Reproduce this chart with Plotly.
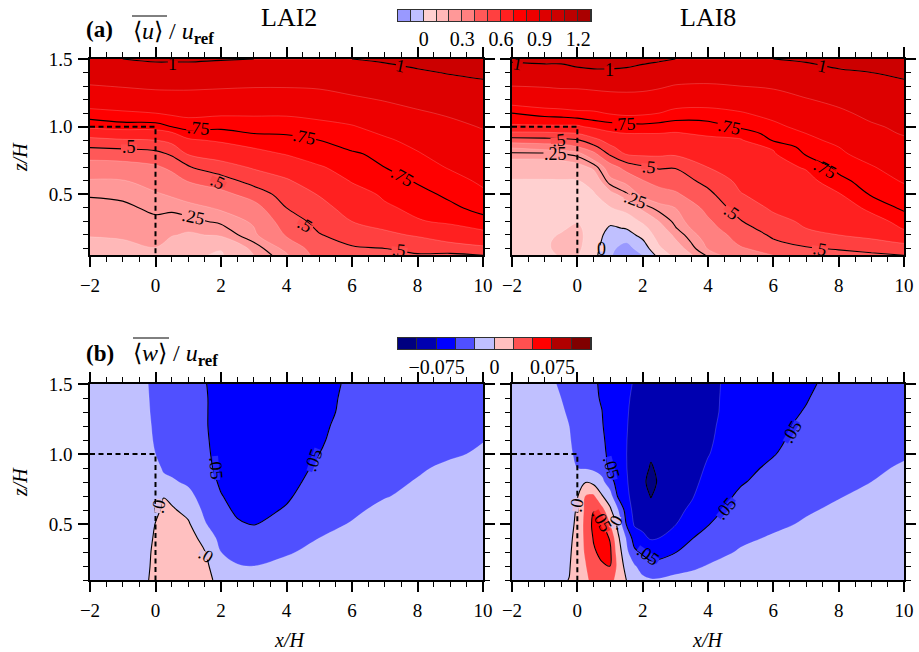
import math
import numpy as np
import plotly.graph_objects as go

W, H = 919, 652
SERIF = "Liberation Serif"

# ---------- u panels ----------
Z2 = [.05,.1,.2,.3,.4,.5,.6,.7,.8,.9,1.0,1.1,1.2,1.3,1.4,1.5]
X2 = [-2,-1,0,.5,1,2,3,4,5,6,7,8,9,10]
U2 = [
 [.15,.175,.204,.22,.236,.254,.293,.355,.44,.572,.715,.78,.84,.895,.95,.985],
 [.15,.18,.21,.225,.24,.26,.295,.36,.45,.59,.73,.79,.85,.905,.955,1.0],
 [.17,.198,.22,.24,.26,.29,.34,.385,.47,.6,.73,.8,.86,.915,.965,1.01],
 [.12,.15,.205,.23,.26,.31,.36,.42,.515,.63,.75,.81,.865,.915,.965,1.01],
 [.115,.135,.19,.235,.275,.335,.405,.49,.61,.69,.77,.815,.865,.915,.965,1.01],
 [.09,.105,.21,.26,.31,.37,.454,.56,.645,.71,.76,.81,.86,.91,.955,1.005],
 [.2,.22,.285,.31,.36,.44,.54,.61,.675,.735,.765,.81,.86,.905,.95,1.0],
 [.29,.32,.41,.45,.5,.545,.59,.645,.705,.74,.765,.81,.86,.905,.95,1.0],
 [.44,.46,.495,.53,.57,.605,.65,.695,.725,.75,.78,.82,.865,.91,.955,1.0],
 [.47,.49,.54,.6,.635,.67,.705,.72,.745,.77,.795,.835,.885,.93,.965,1.0],
 [.48,.5,.58,.635,.69,.71,.73,.75,.76,.79,.825,.865,.905,.945,.975,1.01],
 [.49,.53,.61,.695,.715,.735,.755,.775,.795,.82,.855,.89,.925,.955,.99,1.025],
 [.48,.55,.66,.71,.74,.76,.78,.805,.83,.86,.88,.91,.94,.97,1.005,1.04],
 [.5,.58,.68,.735,.765,.79,.81,.83,.85,.88,.905,.93,.955,.985,1.015,1.045],
]

Z8 = [.05,.1,.15,.2,.25,.3,.4,.5,.6,.7,.8,.85,.9,.95,1.0,1.1,1.2,1.3,1.4,1.5]
X8 = [-2,-1,-.5,0,.5,1,1.5,2,2.5,3,4,5,6,7,8,9,10]
U8 = [
 [.07,.07,.07,.075,.075,.08,.085,.09,.095,.137,.24,.31,.455,.575,.69,.75,.835,.9,.955,1.015],
 [.085,.09,.09,.085,.08,.08,.085,.09,.095,.14,.24,.34,.465,.58,.69,.77,.85,.905,.965,1.02],
 [.105,.115,.115,.105,.09,.085,.085,.09,.095,.15,.25,.35,.47,.59,.69,.775,.855,.91,.965,1.02],
 [.105,.12,.125,.125,.115,.095,.09,.09,.095,.17,.27,.395,.49,.6,.69,.785,.86,.91,.98,1.03],
 [.03,.04,.05,.055,.06,.065,.075,.09,.14,.215,.375,.47,.57,.65,.715,.79,.855,.92,.985,1.04],
 [-.09,-.08,-.06,-.04,-.012,.02,.095,.17,.28,.35,.52,.585,.635,.69,.725,.805,.865,.925,.985,1.04],
 [-.16,-.135,-.095,-.04,.005,.04,.135,.24,.32,.44,.61,.64,.665,.7,.73,.815,.87,.925,.98,1.035],
 [-.1,-.055,-.015,.03,.065,.115,.22,.32,.395,.485,.62,.645,.66,.7,.735,.81,.87,.92,.97,1.02],
 [.03,.085,.115,.14,.17,.2,.27,.36,.435,.51,.62,.65,.675,.7,.73,.8,.86,.91,.96,1.01],
 [.13,.16,.19,.215,.245,.265,.3,.385,.45,.505,.615,.64,.665,.695,.725,.78,.84,.895,.95,1.0],
 [.26,.305,.32,.34,.365,.385,.43,.475,.53,.6,.645,.665,.685,.71,.73,.78,.83,.89,.945,1.0],
 [.36,.39,.42,.44,.47,.495,.545,.595,.625,.65,.675,.685,.695,.72,.76,.795,.84,.9,.95,1.0],
 [.4,.44,.49,.515,.54,.57,.615,.64,.66,.68,.695,.705,.755,.77,.785,.82,.865,.91,.955,1.0],
 [.44,.49,.53,.565,.6,.615,.645,.665,.68,.705,.755,.77,.785,.8,.82,.86,.895,.935,.97,1.01],
 [.46,.51,.56,.6,.62,.635,.665,.695,.735,.765,.79,.8,.815,.83,.85,.885,.92,.955,.99,1.025],
 [.47,.55,.585,.62,.65,.675,.715,.755,.775,.795,.825,.84,.86,.88,.89,.92,.945,.975,1.0,1.03],
 [.5,.57,.61,.675,.705,.72,.76,.78,.805,.83,.855,.87,.89,.905,.915,.94,.965,.99,1.01,1.035],
]

# ---------- w panels ----------
ZW = [.1,.2,.3,.4,.5,.6,.7,.8,.9,1.0,1.1,1.2,1.3,1.4,1.5]
XW2 = [-2,-1,-.25,0,.25,.5,1,1.5,2,2.5,3,4,5,6,7,8,9,10]
W2 = [
 [-.002,-.003,-.004,-.005,-.006,-.007,-.008,-.009,-.009,-.01,-.011,-.012,-.013,-.013,-.014],
 [-.003,-.004,-.005,-.006,-.007,-.008,-.01,-.011,-.012,-.013,-.014,-.015,-.016,-.017,-.018],
 [-.001,-.003,-.004,-.006,-.007,-.009,-.011,-.013,-.015,-.017,-.019,-.02,-.022,-.023,-.024],
 [.005,.006,.005,.003,.0005,-.004,-.008,-.012,-.016,-.025,-.028,-.03,-.031,-.032,-.033],
 [.014,.013,.012,.01,.007,.003,-.0005,-.018,-.029,-.033,-.035,-.036,-.037,-.038,-.038],
 [.02,.018,.015,.012,.008,.003,-.006,-.022,-.031,-.036,-.038,-.039,-.04,-.04,-.04],
 [.022,.02,.016,.01,.003,-.007,-.018,-.029,-.036,-.04,-.042,-.043,-.044,-.044,-.044],
 [.012,.007,.001,-.008,-.023,-.03,-.036,-.04,-.044,-.046,-.047,-.048,-.048,-.048,-.049],
 [-.012,-.019,-.025,-.033,-.04,-.045,-.049,-.053,-.056,-.057,-.058,-.058,-.058,-.058,-.057],
 [-.016,-.024,-.031,-.04,-.048,-.053,-.057,-.06,-.062,-.063,-.064,-.064,-.064,-.063,-.062],
 [-.016,-.025,-.032,-.042,-.051,-.057,-.06,-.063,-.065,-.066,-.067,-.067,-.067,-.066,-.065],
 [-.012,-.02,-.027,-.034,-.041,-.048,-.053,-.057,-.06,-.061,-.062,-.062,-.061,-.06,-.059],
 [-.01,-.015,-.02,-.025,-.03,-.034,-.038,-.042,-.046,-.05,-.052,-.053,-.054,-.054,-.054],
 [-.008,-.012,-.016,-.02,-.024,-.028,-.031,-.034,-.037,-.04,-.042,-.044,-.046,-.047,-.048],
 [-.006,-.009,-.012,-.015,-.018,-.021,-.026,-.029,-.031,-.033,-.035,-.037,-.039,-.04,-.041],
 [-.005,-.007,-.009,-.012,-.015,-.018,-.021,-.024,-.027,-.03,-.032,-.034,-.035,-.036,-.037],
 [-.004,-.006,-.008,-.01,-.012,-.015,-.017,-.019,-.022,-.027,-.029,-.031,-.032,-.033,-.034],
 [-.003,-.005,-.007,-.009,-.011,-.013,-.015,-.017,-.02,-.023,-.0255,-.028,-.03,-.031,-.032],
]

XW8 = [-2,-1,-.5,-.25,0,.25,.5,.75,1,1.25,1.5,1.75,2,2.25,2.5,3,3.5,4,5,6,7,8,9,10]
W8 = [
 [-.002,-.003,-.004,-.005,-.006,-.007,-.008,-.009,-.01,-.011,-.012,-.013,-.014,-.015,-.016],
 [-.003,-.004,-.005,-.006,-.008,-.009,-.01,-.012,-.013,-.014,-.015,-.016,-.018,-.019,-.02],
 [-.003,-.005,-.006,-.008,-.01,-.012,-.014,-.016,-.018,-.02,-.021,-.022,-.023,-.025,-.027],
 [.0005,-.002,-.004,-.006,-.009,-.011,-.014,-.016,-.018,-.021,-.023,-.025,-.027,-.029,-.03],
 [.016,.014,.012,.009,.006,.003,-.002,-.015,-.025,-.03,-.033,-.034,-.035,-.036,-.037],
 [.022,.024,.028,.031,.033,.031,.026,-.001,-.027,-.035,-.038,-.04,-.041,-.042,-.043],
 [.03,.04,.047,.052,.056,.049,.029,-.007,-.03,-.04,-.043,-.044,-.045,-.046,-.047],
 [.034,.047,.056,.062,.054,.035,.002,-.019,-.034,-.041,-.045,-.048,-.0495,-.052,-.053],
 [.03,.05,.055,.048,.026,.005,-.015,-.038,-.055,-.058,-.059,-.06,-.061,-.062,-.063],
 [.02,.019,.012,.004,-.008,-.025,-.054,-.062,-.066,-.069,-.07,-.07,-.07,-.07,-.07],
 [.0,-.01,-.019,-.027,-.051,-.06,-.068,-.072,-.074,-.0745,-.074,-.073,-.072,-.071,-.07],
 [-.012,-.023,-.045,-.062,-.078,-.083,-.087,-.088,-.088,-.087,-.086,-.085,-.083,-.08,-.077],
 [-.02,-.035,-.054,-.071,-.08,-.086,-.09,-.092,-.092,-.092,-.09,-.089,-.088,-.086,-.084],
 [-.023,-.044,-.06,-.077,-.086,-.093,-.101,-.112,-.102,-.097,-.095,-.094,-.092,-.09,-.088],
 [-.023,-.042,-.059,-.075,-.083,-.089,-.093,-.095,-.096,-.096,-.095,-.094,-.093,-.092,-.09],
 [-.02,-.033,-.051,-.065,-.076,-.081,-.085,-.088,-.09,-.09,-.09,-.09,-.089,-.088,-.087],
 [-.018,-.029,-.04,-.051,-.061,-.071,-.077,-.081,-.084,-.085,-.086,-.086,-.086,-.085,-.084],
 [-.015,-.024,-.033,-.042,-.051,-.058,-.063,-.068,-.072,-.076,-.078,-.079,-.08,-.08,-.08],
 [-.01,-.018,-.023,-.029,-.035,-.04,-.046,-.052,-.056,-.059,-.061,-.063,-.065,-.066,-.067],
 [-.008,-.013,-.018,-.023,-.029,-.033,-.037,-.041,-.046,-.051,-.054,-.055,-.056,-.057,-.058],
 [-.006,-.01,-.014,-.018,-.023,-.027,-.031,-.034,-.037,-.04,-.043,-.046,-.049,-.051,-.053],
 [-.005,-.008,-.011,-.014,-.018,-.022,-.026,-.029,-.032,-.034,-.036,-.038,-.04,-.042,-.044],
 [-.004,-.006,-.009,-.012,-.015,-.018,-.021,-.025,-.028,-.03,-.032,-.034,-.036,-.037,-.038],
 [-.003,-.005,-.007,-.01,-.012,-.015,-.018,-.02,-.023,-.027,-.029,-.031,-.032,-.033,-.034],
]

# ---------- colour bands ----------
U_EDGES = [-.2,-.1,0,.1,.2,.3,.4,.5,.6,.7,.8,.9,1.0,1.1,1.2,1.3]
U_COLORS = ["#9999ff","#c0c0ff","#ffd0d0","#ffb8b8","#ff9898","#ff8080","#ff5858","#ff4040",
            "#ff2020","#ff0000","#ee0000","#dd0000","#cc0000","#bb0000","#aa0000"]
W_EDGES = [-.125,-.1,-.075,-.05,-.025,0,.025,.05,.075,.1,.125]
W_COLORS = ["#000080","#0000b0","#0000ff","#5050ff","#c0c0ff","#ffc0c0","#ff5050","#ff0000","#b00000","#800000"]
U_TICKS = [0,.3,.6,.9,1.2]
W_TICKS = [-.075,0,.075]

CANOPY_X = [-2,0,0]
CANOPY_Z = [1.0,1.0,0.0]

# panel, x, z, text, angle, colour of the gap cut into the line under the label
LABELS = [
 (1,.53,1.463,"1",0,"#dd0000"),(1,7.49,1.45,"1",12,"#d40000"),(1,1.31,.988,".75",5,"#ff0000"),(1,4.55,.926,".75",12,"#ff0000"),(1,7.55,.63,".75",30,"#ff0000"),
 (1,-.81,.847,".5",0,"#ff4c4c"),(1,1.92,.594,".5",25,"#ff4c4c"),(1,4.57,.273,".5",30,"#ff4c4c"),(1,7.45,.089,".5",5,"#ff4c4c"),(1,1.16,.33,".25",12,"#ff9898"),
 (2,-1.83,1.463,"1",10,"#d40000"),(2,.98,1.42,"1",0,"#dd0000"),(2,7.5,1.45,"1",12,"#d40000"),(2,1.44,1.017,".75",-3,"#ff0000"),(2,4.65,1.0,".75",12,"#ff0000"),
 (2,7.6,.69,".75",28,"#ff0000"),(2,-.57,.90,".5",-5,"#ff4c4c"),(2,2.2,.704,".5",5,"#ff4c4c"),(2,4.72,.372,".5",35,"#ff4c4c"),(2,7.42,.094,".5",10,"#ff4c4c"),
 (2,-.67,.798,".25",0,"#ff9898"),(2,1.79,.458,".25",20,"#ff9898"),(2,.73,.1,"0",0,"#ffd0d0"),
 (3,1.85,.9,".05",85,"#2828ff"),(3,4.82,.958,".05",-70,"#2828ff"),(3,.09,.63,".0",-80,"#dfc0df"),(3,1.53,.277,".0",30,"#dfc0df"),
 (4,1.05,.9,".05",75,"#2828ff"),(4,6.55,1.16,".05",-60,"#2828ff"),(4,4.55,.614,".05",-50,"#2828ff"),(4,2.17,.281,".05",35,"#2828ff"),(4,.75,.52,".05",60,"#ff2828"),
 (4,-.03,.638,".0",-80,"#dfc0df"),(4,1.16,.514,".0",-60,"#dfc0df"),
]
LABEL_PX = {"1":5,"0":5,".0":7,".5":8,".75":12,".25":12,".05":12}

def steps(colors):
    n = len(colors)
    out = []
    for i, c in enumerate(colors):
        out += [[i/n, c], [(i+1)/n, c]]
    return out

fig = go.Figure()

PANELS = [
 (1, X2, Z2, U2, U_EDGES, U_COLORS, (0,1,.25)),
 (2, X8, Z8, U8, U_EDGES, U_COLORS, (0,1,.25)),
 (3, XW2, ZW, W2, W_EDGES, W_COLORS, (-.1,.05,.05)),
 (4, XW8, ZW, W8, W_EDGES, W_COLORS, (-.1,.05,.05)),
]
for n, xs, zs, vals, edges, colors, black in PANELS:
    zz = np.array(vals).T
    size = edges[1]-edges[0]
    fig.add_trace(go.Contour(x=xs, y=zs, z=zz, xaxis=f"x{n}", yaxis=f"y{n}",
        colorscale=steps(colors), zmin=edges[0], zmax=edges[-1], showscale=False,
        autocontour=False,
        contours=dict(start=edges[0], end=edges[-1], size=size, coloring="fill", showlines=True),
        line=dict(color="rgba(255,255,255,0.3)", width=0.6, smoothing=1), hoverinfo="skip"))
    fig.add_trace(go.Contour(x=xs, y=zs, z=zz, xaxis=f"x{n}", yaxis=f"y{n}",
        showscale=False, autocontour=False,
        contours=dict(start=black[0], end=black[1], size=black[2], coloring="none"),
        line=dict(color="black", width=1.1, smoothing=1), hoverinfo="skip"))

for n in (1,2,3,4):
    fig.add_trace(go.Scatter(x=CANOPY_X, y=CANOPY_Z, mode="lines", xaxis=f"x{n}", yaxis=f"y{n}",
        line=dict(color="black", width=2, dash="5px,3.5px"), hoverinfo="skip", showlegend=False))

# colour bars
for n, edges, colors in ((5,U_EDGES,U_COLORS),(6,W_EDGES,W_COLORS)):
    fig.add_trace(go.Heatmap(x=edges, y=[0,1], z=[list(range(len(colors)))], xaxis=f"x{n}", yaxis=f"y{n}",
        colorscale=steps(colors), zmin=-.5, zmax=len(colors)-.5, showscale=False, xgap=1, hoverinfo="skip"))

def dom_x(a,b): return [a/W, b/W]
def dom_y(top,bot): return [1-bot/H, 1-top/H]

tickfont = dict(family=SERIF, size=19, color="black")
def xax(dom, anchor):
    return dict(domain=dom, anchor=anchor, range=[-2,10], tick0=-2, dtick=2, ticks="outside", ticklen=10, tickwidth=1.5,
        tickcolor="black", showline=True, linecolor="black", linewidth=1.5, mirror="ticks", showgrid=False, zeroline=False,
        tickfont=tickfont, ticklabelstandoff=2, automargin=False,
        minor=dict(ticks="outside", dtick=.5, tick0=0, ticklen=5, tickwidth=1, tickcolor="black", showgrid=False))
def yax(dom, anchor, lo, labels):
    return dict(domain=dom, anchor=anchor, range=[lo,1.5], tick0=0, dtick=.5, tickformat=".1f", ticks="outside", ticklen=10, tickwidth=1.5,
        tickcolor="black", showline=True, linecolor="black", linewidth=1.5, mirror="ticks", showgrid=False, zeroline=False,
        tickfont=tickfont, showticklabels=labels, ticklabelstandoff=2, automargin=False,
        minor=dict(ticks="outside", dtick=.1, tick0=0, ticklen=5, tickwidth=1, tickcolor="black", showgrid=False))

XL, XR = dom_x(90,483), dom_x(512,904)
YA, YB = dom_y(59,255), dom_y(384,580)
layout = dict(width=W, height=H, margin=dict(l=0,r=0,t=0,b=0,autoexpand=False), paper_bgcolor="white", plot_bgcolor="#303030",
    showlegend=False, font=dict(family=SERIF, color="black"),
    xaxis1=xax(XL,"y1"), yaxis1=yax(YA,"x1",.052,True),
    xaxis2=xax(XR,"y2"), yaxis2=yax(YA,"x2",.052,False),
    xaxis3=xax(XL,"y3"), yaxis3=yax(YB,"x3",.1,True),
    xaxis4=xax(XR,"y4"), yaxis4=yax(YB,"x4",.1,False),
)
for n, edges, ticks, txt_, top, bot in ((5,U_EDGES,U_TICKS,[("0" if t==0 else f"{t:g}") for t in U_TICKS],10,21),
                                       (6,W_EDGES,W_TICKS,["\u22120.075","0","0.075"],338,349)):
    layout[f"xaxis{n}"] = dict(domain=dom_x(398,591), anchor=f"y{n}", range=[edges[0],edges[-1]], tickvals=ticks, ticktext=txt_,
        ticks="", showline=True, linecolor="#303030", linewidth=1, mirror=True, showgrid=False, zeroline=False,
        tickfont=dict(family=SERIF, size=20, color="black"), ticklabelstandoff=0, automargin=False)
    layout[f"yaxis{n}"] = dict(domain=dom_y(top,bot), anchor=f"x{n}", range=[0,1], showticklabels=False, ticks="",
        showline=True, linecolor="#303030", linewidth=1, mirror=True, showgrid=False, zeroline=False, automargin=False)

ann = []
shapes = [
 dict(type="line",xref="paper",yref="paper",x0=132/W,x1=167/W,y0=1-16/H,y1=1-16/H,line=dict(color="black",width=1)),
 dict(type="line",xref="paper",yref="paper",x0=133/W,x1=169/W,y0=1-338/H,y1=1-338/H,line=dict(color="black",width=1)),
]
for n, x, z, t, ang, gap in LABELS:
    ann.append(dict(x=x,y=z,xref=f"x{n}",yref=f"y{n}",text=t,textangle=ang,showarrow=False,
        font=dict(family=SERIF,size=18,color="black")))
    r = LABEL_PX[t]
    dx, dy = r*math.cos(math.radians(ang)), -r*math.sin(math.radians(ang))
    shapes.append(dict(type="line", xref=f"x{n}", yref=f"y{n}", xsizemode="pixel", ysizemode="pixel",
        xanchor=x, yanchor=z, x0=-dx, x1=dx, y0=-dy, y1=dy, line=dict(color=gap, width=6)))

def txt(px,py,t,size,anchor="center",angle=0,**k):
    return dict(x=px/W,y=1-py/H,xref="paper",yref="paper",text=t,showarrow=False,xanchor=anchor,yanchor="middle",
        textangle=angle,font=dict(family=SERIF,size=size,color="black"),**k)

ann += [
 txt(289,18,"LAI2",26), txt(708,18,"LAI8",26),
 txt(84,30,"<b>(a)</b>",23,"left"), txt(84,353,"<b>(b)</b>",23,"left"),
 txt(131,33,"\u27e8<i>u</i>\u27e9 / <i>u</i><sub><b>ref</b></sub>",24,"left"),
 txt(131,355,"\u27e8<i>w</i>\u27e9 / <i>u</i><sub><b>ref</b></sub>",24,"left"),
 txt(20,157,"<i>z/H</i>",20,angle=-90), txt(20,482,"<i>z/H</i>",20,angle=-90),
 txt(289,640,"<i>x/H</i>",20), txt(707,640,"<i>x/H</i>",20),
]
layout["annotations"] = ann
layout["shapes"] = shapes
fig.update_layout(**layout)
fig.write_html("out.html", config=dict(displayModeBar=False),
    post_script="document.body.style.margin='0';document.documentElement.style.overflow='hidden';")
